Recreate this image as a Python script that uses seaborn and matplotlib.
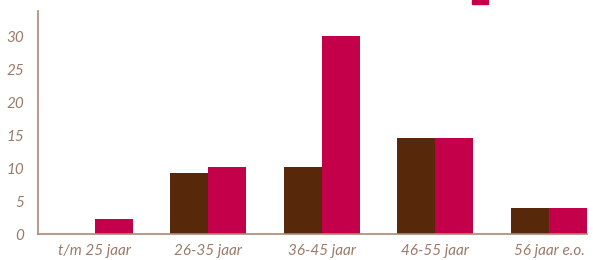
import pandas as pd
import matplotlib.pyplot as plt
import seaborn as sns
from matplotlib.patches import Rectangle

# data
categories = ["t/m 25 jaar", "26-35 jaar", "36-45 jaar", "46-55 jaar", "56 jaar e.o."]
serie_a = [0, 9.2, 10.2, 14.5, 3.9]
serie_b = [2.3, 10.2, 30, 14.5, 3.9]
series = ["serie A", "serie B"]
yticks = [0, 5, 10, 15, 20, 25, 30]

df = pd.DataFrame({
    "categorie": categories * 2,
    "waarde": serie_a + serie_b,
    "serie": [series[0]] * len(categories) + [series[1]] * len(categories),
})

sns.set_style("white")
plt.rcParams["font.family"] = ["Lato", "DejaVu Sans"]

text_color = "#9a7b6a"
spine_color = "#a88a78"
colors = ["#58280a", "#c5004b"]

fig = plt.figure(figsize=(5.93, 2.6), dpi=100)
ax = fig.add_axes([38 / 593, 1 - 234 / 260, (587 - 38) / 593, (234 - 11) / 260])

sns.barplot(data=df, x="categorie", y="waarde", hue="serie", palette=colors,
            width=0.67, saturation=1, linewidth=0, legend=False, ax=ax)

ax.set_xlim(-0.5, 4.335)
ax.set_ylim(0, 33.8)
ax.set_yticks(yticks)
ax.set_xlabel("")
ax.set_ylabel("")

for side in ["top", "right"]:
    ax.spines[side].set_visible(False)
for side in ["left", "bottom"]:
    ax.spines[side].set_color(spine_color)
    ax.spines[side].set_linewidth(1.2)

ax.tick_params(axis="both", length=0, colors=text_color, labelsize=11)
ax.tick_params(axis="x", pad=7)
ax.tick_params(axis="y", pad=10)
for lbl in ax.get_xticklabels() + ax.get_yticklabels():
    lbl.set_fontstyle("italic")

# stukje van de legenda dat boven de rand valt
fig.patches.append(Rectangle((472 / 593, 1 - 4 / 260), 16 / 593, 4 / 260,
                             transform=fig.transFigure, color=colors[1]))

plt.savefig("out.png", dpi=100)
